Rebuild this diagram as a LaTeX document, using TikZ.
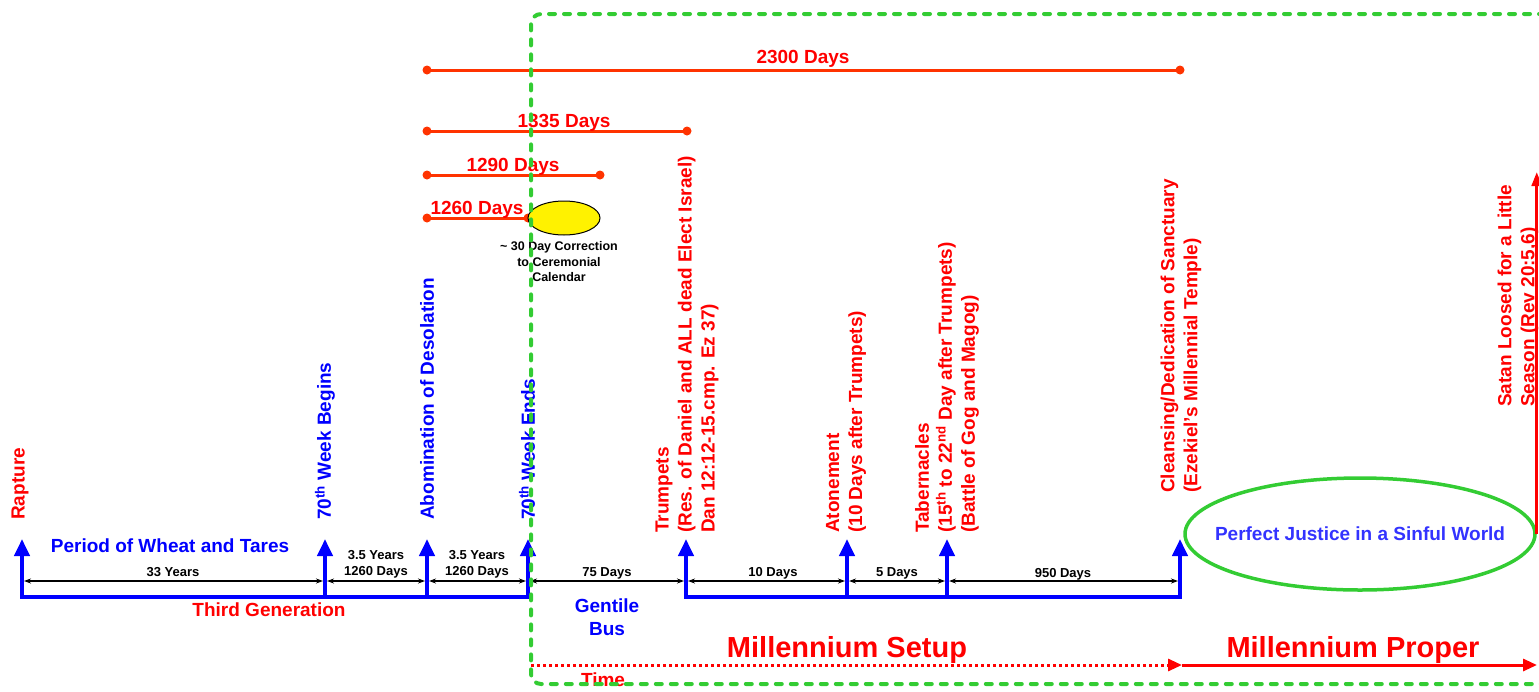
\documentclass[tikz,border=0pt]{standalone}
\usepackage{fontspec}
\setmainfont{Liberation Sans}
\usetikzlibrary{arrows.meta,shapes.geometric}
\definecolor{tred}{HTML}{FF0000}
\definecolor{tblue}{HTML}{0000FF}
\definecolor{torange}{HTML}{FF3300}
\definecolor{tgreen}{HTML}{33CC33}
\definecolor{pjblue}{HTML}{3333FF}
\tikzset{
  big/.style={font=\fontsize{19}{23}\selectfont\bfseries, inner sep=0pt},
  small/.style={font=\fontsize{13}{16}\selectfont\bfseries, inner sep=0pt},
  tiny/.style={font=\fontsize{12.5}{15.5}\selectfont\bfseries, inner sep=0pt},
  huge/.style={font=\fontsize{29}{34}\selectfont\bfseries, inner sep=0pt},
  vl/.style={big, rotate=90, anchor=west, align=left},
  blueaxis/.style={tblue, line width=4pt, line cap=rect},
  uparrow/.style={tblue, line width=4pt, -{Triangle[length=17pt,width=15pt]}},
  dim/.style={black, line width=1.2pt, {Stealth[length=7pt,width=5pt]}-{Stealth[length=7pt,width=5pt]}, shorten <=2pt, shorten >=2pt},
  spanline/.style={torange, line width=3pt},
  enddot/.style={circle, fill=torange, inner sep=0pt, minimum size=9pt},
}
\begin{document}
\begin{tikzpicture}[x=1pt,y=-1pt]
\useasboundingbox (0,0) rectangle (1539,691);

% event coordinates
\foreach \n/\x in {1/22,2/325,3/427,4/528,5/686,6/847,7/947,8/1180}{
  \coordinate (b\n) at (\x,597);
  \coordinate (t\n) at (\x,539);
  \coordinate (d\n) at (\x,581);
}

% blue axis
\draw[blueaxis] (b1) -- (b4);
\draw[blueaxis] (b5) -- (b8);
\foreach \n in {1,...,8}{ \draw[uparrow] (b\n) -- (t\n); }

% dimension lines
\draw[dim] (d1) -- (d2);
\draw[dim] (d2) -- (d3);
\draw[dim] (d3) -- (d4);
\draw[dim] (d4) -- (d5);
\draw[dim] (d5) -- (d6);
\draw[dim] (d6) -- (d7);
\draw[dim] (d7) -- (d8);

\node[small] (l33) at (173,572) {33 Years};
\node[small, align=center] (l35a) at (376,564) {3.5 Years\\1260 Days};
\node[small, align=center] (l35b) at (477,564) {3.5 Years\\1260 Days};
\node[small] (l75) at (607,573) {75 Days};
\node[small] (l10) at (773,573) {10 Days};
\node[small] (l5) at (897,573) {5 Days};
\node[small] (l950) at (1063,574) {950 Days};

\node[big, text=tblue] (pwt) at (170,546) {Period of Wheat and Tares};
\node[big, text=tred] (tg) at (269,610) {Third Generation};
\node[big, text=tblue, align=center] (gb) at (607,617) {Gentile\\Bus};

% vertical labels
\node[vl, text=tred] (rap) at (20,520) {Rapture};
\node[vl, text=tblue] (w70b) at (325,520) {70\textsuperscript{th} Week Begins};
\node[vl, text=tblue] (abom) at (427,520) {Abomination of Desolation};
\node[vl, text=tblue] (w70e) at (527,520) {70\textsuperscript{th} Week Ends};
\node[vl, text=tred] (trump) at (687,533) {Trumpets\\(Res. of Daniel and ALL dead Elect Israel)\\Dan 12:12-15.cmp. Ez 37)};
\node[vl, text=tred] (aton) at (846,533) {Atonement\\(10 Days after Trumpets)};
\node[vl, text=tred] (tab) at (947,533) {Tabernacles\\(15\textsuperscript{th} to 22\textsuperscript{nd} Day after Trumpets)\\(Battle of Gog and Magog)};
\node[vl, text=tred] (clean) at (1181,493) {Cleansing/Dedication of Sanctuary\\(Ezekiel’s Millennial Temple)};
\node[vl, text=tred] (satan) at (1518,407) {Satan Loosed for a Little\\Season (Rev 20:5,6)};

% day spans
\node[enddot] (s1a) at (427,70) {};
\node[enddot] (s1b) at (1180,70) {};
\node[enddot] (s2a) at (427,131) {};
\node[enddot] (s2b) at (687,131) {};
\node[enddot] (s3a) at (427,175) {};
\node[enddot] (s3b) at (600,175) {};
\node[enddot] (s4a) at (427,218) {};
\node[enddot] (s4b) at (528,218) {};
\draw[spanline] (s1a.center) -- (s1b.center);
\draw[spanline] (s2a.center) -- (s2b.center);
\draw[spanline] (s3a.center) -- (s3b.center);
\draw[spanline] (s4a.center) -- (s4b.center);
\node[big, text=tred] (l2300) at (803,59) {2300 Days};
\node[big, text=tred] (l1335) at (564,123) {1335 Days};
\node[big, text=tred] (l1290) at (513,167) {1290 Days};
\node[big, text=tred] (l1260) at (477,210) {1260 Days};

% correction ellipse
\node[ellipse, draw=black, line width=1pt, fill=yellow, minimum width=72pt, minimum height=34pt, inner sep=0pt] (corr) at (564,218) {};
\node[tiny, align=center] (corrtxt) at (559,262) {\textasciitilde{} 30 Day Correction\\to Ceremonial\\Calendar};

% perfect justice ellipse
\node[ellipse, draw=tgreen, line width=3.5pt, minimum width=350pt, minimum height=112pt, inner sep=0pt] (pj) at (1360,534) {};
\node[big, text=pjblue] (pjt) at (pj.center) {Perfect Justice in a Sinful World};
\coordinate (sattip) at (pj.east |- 0,172);
\draw[tred, line width=3pt, -{Triangle[length=14pt,width=10pt]}] (pj.east) -- (sattip);

% time line
\coordinate (tl0) at (531,665);
\coordinate (tl1) at (1182,665);
\coordinate (tl2) at (1537,665);
\draw[tred, line width=3pt, dash pattern=on 3pt off 3pt, -{Triangle[length=14pt,width=12pt]}] (tl0) -- (tl1);
\draw[tred, line width=3pt, -{Triangle[length=14pt,width=12pt]}] (tl1) -- (tl2);
\node[huge, text=tred] (ms) at (847,650) {Millennium Setup};
\node[huge, text=tred] (mp) at (1353,650) {Millennium Proper};
\node[big, text=tred] (time) at (603,680) {Time};

% green dashed frame
\coordinate (g0) at (1560,14);
\coordinate (g1) at (531,14);
\coordinate (g2) at (531,684);
\coordinate (g3) at (1560,684);
\draw[tgreen, line width=4pt, dash pattern=on 6pt off 9pt, line cap=round, rounded corners=10pt] (g0) -- (g1) -- (g2) -- (g3);
\end{tikzpicture}
\end{document}
